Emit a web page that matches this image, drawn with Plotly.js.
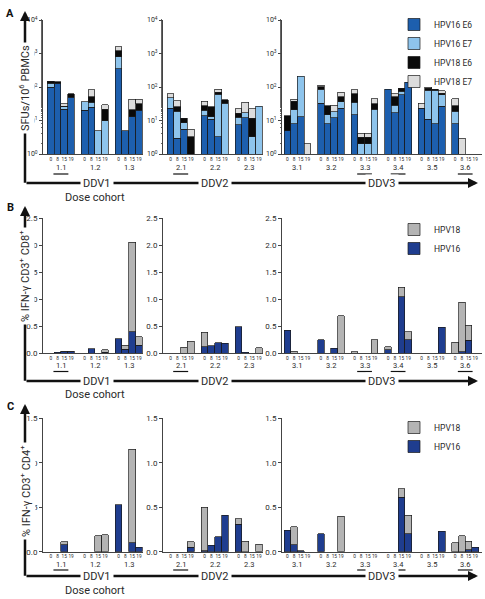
<!DOCTYPE html>
<html><head><meta charset="utf-8">
<script src="https://cdn.plot.ly/plotly-3.0.1.min.js"></script>
<style>html,body{margin:0;padding:0;background:#fff}#chart{width:485px;height:599px}</style>
</head><body><div id="chart"></div>
<script>
// ---------- DATA ----------
const cohorts = ["DDV1", "DDV2", "DDV3"];
const patients = ["1.1","1.2","1.3","2.1","2.2","2.3","3.1","3.2","3.3","3.4","3.5","3.6"];
const patientCohort = [0,0,0,1,1,1,2,2,2,2,2,2];
const timepoints = ["0","8","15","19"];
const underlinedPatients = ["1.1","2.1","3.3","3.4","3.6"];

// Panel A: SFUs / 10^6 PBMCs (stacked segments, 4 timepoints per patient)
const A_HPV16_E6 = [100,130,22,50,  20,25,null,null,  350,5,13,20,
                    23,3,5.5,null,  14,11,3.3,null,  7.4,12,null,null,
                    5,8,13,null,  33,8,12,23,  15,null,null,null,
                    87,17,59,138,  23,11,8,27,  8,null,null,null];
const A_HPV16_E7 = [30,null,4,null,  16,10,5,10,  450,null,null,null,
                    24,16,3,null,  6,2,57,33,  5,5,3.3,27,
                    null,13,200,null,  54,7,6,13,  20,2,2,22,
                    null,12,15,null,  null,68,71,32,  11,null,null,null];
const A_HPV18_E6 = [20,12,1,12,  null,17,null,12,  400,null,8,12,
                    null,7,3,3.3,  8,13,10,9,  4,null,8.5,null,
                    9,16,null,null,  15,13,null,16,  27,1.2,1.2,10,
                    null,23,19,null,  null,14,8,7,  9,null,null,null];
const A_HPV18_E7 = [null,null,5,null,  null,30,null,8,  400,null,22,11,
                    15,13,null,2.2,  9,null,15,null,  6,18,11,null,
                    null,6,null,2,  12,null,11,17,  21,1,1,12,
                    null,11,null,null,  10,7,null,11,  17,3,null,null];

// Panel B: % IFN-γ CD3+ CD8+
const B_HPV16 = [null,0.01,0.02,0.02,  null,0.08,null,0.01,  0.26,0.07,0.39,0.14,
                 null,null,null,null,  0.12,0.13,0.19,0.18,  0.49,0.01,null,null,
                 0.42,null,null,null,  0.25,null,0.09,null,  null,null,null,null,
                 0.06,null,1.04,0.25,  null,null,null,0.48,  null,0.02,0.24,null];
const B_HPV18 = [null,null,0.01,0.01,  null,null,null,0.05,  null,0.07,1.66,0.16,
                 null,null,0.11,0.22,  0.26,null,null,null,  null,null,null,0.1,
                 null,0.03,null,null,  null,null,null,0.69,  0.02,null,null,0.25,
                 0.06,null,0.18,0.14,  null,null,null,null,  0.2,0.92,0.27,null];

// Panel C: % IFN-γ CD3+ CD4+
const C_HPV16 = [null,null,0.08,null,  null,null,null,null,  0.53,null,0.1,0.05,
                 null,null,null,0.05,  0.01,0.07,0.17,0.41,  0.31,null,null,null,
                 0.24,0.08,0.01,null,  0.2,null,null,null,  null,null,null,null,
                 null,null,0.61,0.2,  null,null,null,0.23,  null,null,0.02,0.05];
const C_HPV18 = [null,null,0.03,null,  null,null,0.18,0.19,  null,null,1.05,null,
                 null,null,null,0.06,  0.49,null,null,null,  0.06,0.12,null,0.085,
                 null,0.2,null,null,  null,null,null,0.4,  null,null,null,null,
                 null,null,0.1,0.21,  null,null,null,null,  0.1,0.18,0.1,null];

const A_tickVals = [1,10,100,1000,10000];
const A_tickText = ["10<sup>0</sup>","10<sup>1</sup>","10<sup>2</sup>","10<sup>3</sup>","10<sup>4</sup>"];
const B_tickVals = [0,0.5,1,1.5,2,2.5];
const B_tickText = ["0.0","0.5","1.0","1.5","2.0","2.5"];
const C_tickVals = [0,0.5,1,1.5];
const C_tickText = ["0.0","0.5","1.0","1.5"];

// ---------- LAYOUT HELPERS ----------
const W = 485, H = 599;
const fx = p => p / W;
const fy = p => 1 - p / H;
const FONT = "Liberation Sans Narrow, Roboto, Arial, sans-serif";
const TXT = "#2a2a2a";

const xDomPx = [[43,143],[163,263],[282,482]];
const xRanges = [[-1.14,13.6],[-1.1,13.6],[-0.8,29.0]];

const panels = [
  { letter:"A", series:[
      {name:"HPV16 E6", v:A_HPV16_E6, color:"#1d5fae"},
      {name:"HPV16 E7", v:A_HPV16_E7, color:"#8ec4ec"},
      {name:"HPV18 E6", v:A_HPV18_E6, color:"#0a0a0a"},
      {name:"HPV18 E7", v:A_HPV18_E7, color:"#dcdcdc"}],
    ylog:true, range:[0,4], yPx:[20,154], tv:A_tickVals, tt:A_tickText,
    title:"SFUs/10<sup>6</sup> PBMCs", titleY:88,
    legend:"legend", legY:10, order:"normal",
    patY:167.5, undY:174, arrowTop:11, arrowY:183, doseY:197, letterY:13 },
  { letter:"B", series:[
      {name:"HPV16", v:B_HPV16, color:"#1f3d8f"},
      {name:"HPV18", v:B_HPV18, color:"#b4b4b4"}],
    ylog:false, range:[0,2.5], yPx:[218,353], tv:B_tickVals, tt:B_tickText,
    title:"% IFN-γ CD3<sup>+</sup> CD8<sup>+</sup>", titleY:276,
    legend:"legend2", legY:215, order:"reversed",
    patY:365, undY:371.5, arrowTop:206, arrowY:381, doseY:394, letterY:208 },
  { letter:"C", series:[
      {name:"HPV16", v:C_HPV16, color:"#1f3d8f"},
      {name:"HPV18", v:C_HPV18, color:"#b4b4b4"}],
    ylog:false, range:[0,1.5], yPx:[418.3,551.7], tv:C_tickVals, tt:C_tickText,
    title:"% IFN-γ CD3<sup>+</sup> CD4<sup>+</sup>", titleY:491,
    legend:"legend3", legY:413, order:"reversed",
    patY:564, undY:570, arrowTop:404, arrowY:576, doseY:590, letterY:406 }
];

const traces = [];
const layout = {
  width: W, height: H, margin:{l:0,r:0,t:0,b:0},
  paper_bgcolor:"#fff", plot_bgcolor:"rgba(0,0,0,0)",
  barmode:"stack", hovermode:false,
  font:{family:FONT, color:TXT, size:8},
  annotations:[], shapes:[]
};

panels.forEach((P, r) => {
  cohorts.forEach((cName, c) => {
    const k = r*3 + c + 1;
    const xa = "x" + k, ya = "y" + k;
    const pIdx = patients.map((p,i)=>i).filter(i => patientCohort[i] === c);
    const xs = [], tvals = [], ttext = [];
    pIdx.forEach((pi, j) => timepoints.forEach((t, ti) => {
      xs.push(j*5 + ti); tvals.push(j*5 + ti); ttext.push(t);
    }));
    P.series.forEach(s => {
      traces.push({
        type:"bar", name:s.name, x:xs,
        y: pIdx.flatMap(pi => s.v.slice(pi*4, pi*4+4)),
        width:1, xaxis:xa, yaxis:ya,
        marker:{color:s.color, line:{color:"#1a1a1a", width:0.7}},
        showlegend: c === 0, legend:P.legend
      });
    });
    layout["xaxis" + k] = {
      domain:[fx(xDomPx[c][0]), fx(xDomPx[c][1])], range:xRanges[c], anchor:ya,
      showline:true, linecolor:"#444", linewidth:1, ticks:"", showgrid:false, zeroline:false,
      tickmode:"array", tickvals:tvals, ticktext:ttext, tickangle:0,
      tickfont:{size:4.8, color:TXT, family:FONT}, fixedrange:true
    };
    layout["yaxis" + k] = {
      domain:[fy(P.yPx[1]), fy(P.yPx[0])], anchor:xa,
      type: P.ylog ? "log" : "linear", range:P.range,
      showline:true, linecolor:"#444", linewidth:1, ticks:"outside", ticklen:3, tickcolor:"#444",
      tickmode:"array", tickvals:P.tv, ticktext:P.tt,
      tickfont:{size: P.ylog ? 7 : 8, color:TXT, family:FONT},
      showgrid:false, zeroline:false, fixedrange:true
    };
    if (P.ylog) layout["yaxis" + k].minor = {ticks:"outside", ticklen:1.5, tickcolor:"#666", showgrid:false};
    pIdx.forEach((pi, j) => {
      const cx = j*5 + 1.5;
      layout.annotations.push({xref:xa, yref:"paper", x:cx, y:fy(P.patY), text:patients[pi],
        showarrow:false, font:{size:7.5, color:TXT}, xanchor:"center", yanchor:"middle"});
      if (underlinedPatients.includes(patients[pi])) {
        layout.shapes.push({type:"line", xref:xa, yref:"paper", x0:cx-1.1, x1:cx+1.1,
          y0:fy(P.undY), y1:fy(P.undY), line:{color:"#111", width:1.2}});
      }
    });
  });

  // legend
  layout[P.legend] = {x:fx(394), y:fy(P.legY), xanchor:"left", yanchor:"top",
    traceorder:P.order, font:{size:8.5, color:TXT, family:FONT}, bgcolor:"rgba(0,0,0,0)",
    tracegroupgap:0, itemclick:false};

  // big arrows (vertical and horizontal)
  layout.annotations.push({xref:"paper", yref:"paper", x:fx(25), y:fy(P.arrowTop), text:"",
    showarrow:true, ax:0, ay:(P.arrowY - P.arrowTop) + 1.2, arrowhead:2, arrowsize:0.8,
    arrowwidth:2.5, arrowcolor:"#111", standoff:0, startstandoff:0});
  layout.annotations.push({xref:"paper", yref:"paper", x:fx(478), y:fy(P.arrowY), text:"",
    showarrow:true, ax:-(478-25), ay:0, arrowhead:2, arrowsize:0.8,
    arrowwidth:2.5, arrowcolor:"#111", standoff:0, startstandoff:0});
  // axis title on the vertical arrow
  layout.annotations.push({xref:"paper", yref:"paper", x:fx(25), y:fy(P.titleY), text:P.title,
    textangle:-90, showarrow:false, bgcolor:"#fff", borderpad:2,
    font:{size:11, color:TXT}, xanchor:"center", yanchor:"middle"});
  // cohort names on the horizontal arrow
  [97, 215, 382].forEach((xp, c) => {
    layout.annotations.push({xref:"paper", yref:"paper", x:fx(xp), y:fy(P.arrowY), text:cohorts[c],
      showarrow:false, bgcolor:"#fff", borderpad:2, font:{size:11, color:TXT},
      xanchor:"center", yanchor:"middle"});
  });
  layout.annotations.push({xref:"paper", yref:"paper", x:fx(95), y:fy(P.doseY), text:"Dose cohort",
    showarrow:false, font:{size:11, color:TXT}, xanchor:"center", yanchor:"middle"});
  layout.annotations.push({xref:"paper", yref:"paper", x:fx(10), y:fy(P.letterY), text:"<b>"+P.letter+"</b>",
    showarrow:false, font:{size:11, color:"#111"}, xanchor:"center", yanchor:"middle"});
});

Plotly.newPlot("chart", traces, layout, {displayModeBar:false, staticPlot:true});
</script>
</body></html>
